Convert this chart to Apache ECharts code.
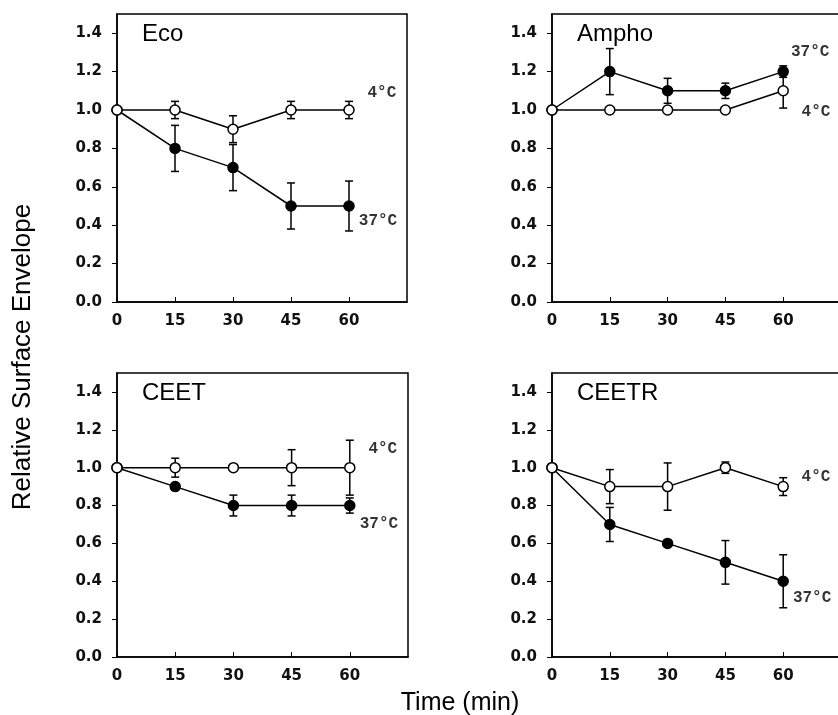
<!DOCTYPE html>
<html>
<head>
<meta charset="utf-8">
<script src="https://cdn.jsdelivr.net/npm/echarts@6/dist/echarts.min.js"></script>
<style>
  html, body { margin: 0; padding: 0; background: #fff; }
  #chart { width: 838px; height: 715px; }
</style>
</head>
<body>
<div id="chart"></div>
<script>
// data
var times = [0, 15, 30, 45, 60];
var yTicks = [0, 0.2, 0.4, 0.6, 0.8, 1.0, 1.2, 1.4];
var panelNames = ['Eco', 'Ampho', 'CEET', 'CEETR'];

var eco4 = [1.0, 1.0, 0.9, 1.0, 1.0];
var eco4Err = [0, 0.045, 0.07, 0.045, 0.045];
var eco37 = [1.0, 0.8, 0.7, 0.5, 0.5];
var eco37Err = [0, 0.12, 0.12, 0.12, 0.13];

var ampho4 = [1.0, 1.0, 1.0, 1.0, 1.1];
var ampho4Err = [0, 0, 0, 0, 0.09];
var ampho37 = [1.0, 1.2, 1.1, 1.1, 1.2];
var ampho37Err = [0, 0.12, 0.065, 0.04, 0.03];

var ceet4 = [1.0, 1.0, 1.0, 1.0, 1.0];
var ceet4Err = [0, 0.05, 0, 0.095, 0.145];
var ceet37 = [1.0, 0.9, 0.8, 0.8, 0.8];
var ceet37Err = [0, 0, 0.055, 0.055, 0.04];

var ceetr4 = [1.0, 0.9, 0.9, 1.0, 0.9];
var ceetr4Err = [0, 0.09, 0.125, 0.03, 0.047];
var ceetr37 = [1.0, 0.7, 0.6, 0.5, 0.4];
var ceetr37Err = [0, 0.09, 0, 0.115, 0.14];

// label anchors [x, y] in data units
var label4Pos = [[68.5, 1.09], [68.5, 0.99], [68.5, 1.10], [68.5, 0.95]];
var label37Pos = [[67.5, 0.42], [67, 1.30], [67.5, 0.70], [67.5, 0.31]];

var cold = [eco4, ampho4, ceet4, ceetr4];
var coldErr = [eco4Err, ampho4Err, ceet4Err, ceetr4Err];
var warm = [eco37, ampho37, ceet37, ceetr37];
var warmErr = [eco37Err, ampho37Err, ceet37Err, ceetr37Err];

var grids = [
  { left: 117, top: 14, width: 290, height: 288 },
  { left: 552, top: 14, width: 289, height: 288 },
  { left: 117, top: 373, width: 291, height: 284 },
  { left: 552, top: 373, width: 289, height: 284 }
];

var tickFont = { fontFamily: 'DejaVu Sans, sans-serif', fontSize: 15, fontWeight: 'bold', color: '#111' };
var monoFont = 'Liberation Mono, Courier New, monospace';
var sansFont = 'Liberation Sans, Arial, sans-serif';

function pairs(ys) {
  return times.map(function (t, i) { return [t, ys[i]]; });
}

function errData(ys, es) {
  var out = [];
  for (var i = 0; i < ys.length; i++) {
    if (es[i] > 0) out.push([times[i], ys[i] - es[i], ys[i] + es[i]]);
  }
  return out;
}

function renderErr(params, api) {
  var x = api.value(0);
  var lo = api.coord([x, api.value(1)]);
  var hi = api.coord([x, api.value(2)]);
  var w = 4;
  var st = { stroke: '#000', lineWidth: 1.5 };
  return {
    type: 'group',
    children: [
      { type: 'line', shape: { x1: lo[0], y1: lo[1], x2: hi[0], y2: hi[1] }, style: st },
      { type: 'line', shape: { x1: lo[0] - w, y1: lo[1], x2: lo[0] + w, y2: lo[1] }, style: st },
      { type: 'line', shape: { x1: hi[0] - w, y1: hi[1], x2: hi[0] + w, y2: hi[1] }, style: st }
    ]
  };
}

var xAxes = [], yAxes = [], series = [], titles = [];

grids.forEach(function (g, k) {
  g.show = true;
  g.borderColor = '#000';
  g.borderWidth = 1.5;
  g.backgroundColor = 'transparent';
  g.outerBoundsMode = 'none';  // right panels run past the page edge

  xAxes.push({
    gridIndex: k, type: 'value', min: 0, max: 75,
    axisLine: { lineStyle: { color: '#000', width: 1.5 } },
    axisTick: { inside: true, length: 5, customValues: times, lineStyle: { color: '#000' } },
    axisLabel: Object.assign({ margin: 12, customValues: times }, tickFont),
    splitLine: { show: false }
  });
  yAxes.push({
    gridIndex: k, type: 'value', min: 0, max: 1.5,
    axisLine: { lineStyle: { color: '#000', width: 1.5 } },
    axisTick: { inside: false, length: 5, customValues: yTicks, lineStyle: { color: '#000' } },
    axisLabel: Object.assign({
      margin: 15, customValues: yTicks,
      formatter: function (v) { return v.toFixed(1); }
    }, tickFont),
    splitLine: { show: false }
  });

  series.push({
    type: 'custom', xAxisIndex: k, yAxisIndex: k, renderItem: renderErr,
    data: errData(cold[k], coldErr[k]), z: 2, silent: true
  });
  series.push({
    type: 'custom', xAxisIndex: k, yAxisIndex: k, renderItem: renderErr,
    data: errData(warm[k], warmErr[k]), z: 2, silent: true
  });
  series.push({
    type: 'line', xAxisIndex: k, yAxisIndex: k, data: pairs(warm[k]),
    symbol: 'circle', symbolSize: 10, z: 3,
    lineStyle: { color: '#000', width: 1.5 },
    itemStyle: { color: '#000', borderColor: '#000', borderWidth: 1.5 }
  });
  series.push({
    type: 'line', xAxisIndex: k, yAxisIndex: k, data: pairs(cold[k]),
    symbol: 'circle', symbolSize: 10, z: 4,
    lineStyle: { color: '#000', width: 1.5 },
    itemStyle: { color: '#fff', borderColor: '#000', borderWidth: 1.5 }
  });
  series.push({
    type: 'scatter', xAxisIndex: k, yAxisIndex: k, symbolSize: 0, silent: true,
    data: [
      { value: label4Pos[k], name: '4°C' },
      { value: label37Pos[k], name: '37°C' }
    ],
    label: {
      show: true, position: 'inside', formatter: '{b}',
      fontFamily: monoFont, fontWeight: 'bold', fontSize: 16, color: '#000'
    }
  });

  titles.push({
    text: panelNames[k], left: g.left + 25, top: g.top + 8, padding: 0,
    textStyle: { fontFamily: sansFont, fontSize: 24, fontWeight: 'normal', color: '#000' }
  });
});

var chart = echarts.init(document.getElementById('chart'));
chart.setOption({
  animation: false,
  backgroundColor: '#fff',
  title: titles,
  grid: grids,
  xAxis: xAxes,
  yAxis: yAxes,
  series: series,
  graphic: [
    {
      type: 'text', x: 23, y: 357, rotation: Math.PI / 2,
      style: {
        text: 'Relative Surface Envelope', fill: '#000',
        font: '26px ' + sansFont,
        align: 'center', verticalAlign: 'middle'
      }
    },
    {
      type: 'text', x: 460, y: 703,
      style: {
        text: 'Time (min)', fill: '#000',
        font: '25px ' + sansFont,
        align: 'center', verticalAlign: 'middle'
      }
    }
  ]
});
</script>
</body>
</html>
